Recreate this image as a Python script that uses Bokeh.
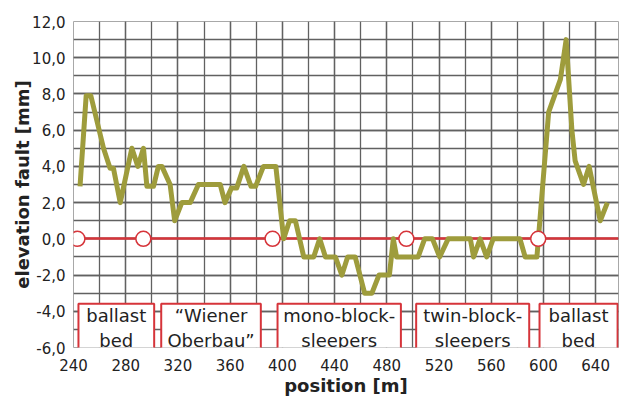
from bokeh.plotting import figure
from bokeh.models import FixedTicker, BoxAnnotation, Label, Range1d, ColumnDataSource
from bokeh.embed import file_html
from bokeh.resources import INLINE

# ---- data ----
position_m = [245, 249.7, 253.3, 263, 268, 270.6, 275.8, 284.7, 289.3, 293.6, 296.2, 301.3,
              305, 307.7, 314, 317.5, 323, 329.4, 335.7, 352.4, 356, 361, 365, 370.5, 376,
              379.5, 385.5, 395, 401, 405.5, 410, 416.4, 424, 428.6, 433, 440.6, 445.6, 450,
              455.8, 463, 468.6, 474, 482, 485, 487.5, 504, 509, 515, 520.5, 527, 544, 546.5,
              551.5, 556.5, 561.5, 582, 586, 595, 604, 613, 617.4, 621.8, 624.3, 630.7, 635,
              643.5, 649]
elevation_fault_mm = [2.9, 7.9, 7.9, 5, 3.9, 3.9, 2, 5, 4, 5, 2.9, 2.9,
                      4, 4, 3, 1, 2, 2, 3, 3, 2, 2.8, 2.8, 4, 2.9,
                      2.9, 4, 4, 0, 1, 1, -1, -1, 0, -1, -1, -2, -1,
                      -1, -3, -3, -2, -2, 0, -1, -1, 0, 0, -1, 0, 0, -1,
                      0, -1, 0, 0, -1, -1, 7, 8.8, 11, 6, 4.3, 3, 4,
                      1, 2]

boundary_positions_m = [243, 293.5, 392.5, 495, 596]
boundary_levels_mm = [0, 0, 0, 0, 0]
zero_level_mm = [0.0]

section_labels = ["ballast\nbed", "\u201cWiener\nOberbau\u201d", "mono-block-\nsleepers",
                  "twin-block-\nsleepers", "ballast\nbed"]
section_starts_m = [243.8, 307.2, 396.3, 502.5, 597.0]
section_ends_m = [301.8, 383.5, 490.8, 589.1, 656.8]

x_ticks = [240, 280, 320, 360, 400, 440, 480, 520, 560, 600, 640]
x_tick_labels = ["240", "280", "320", "360", "400", "440", "480", "520", "560", "600", "640"]
x_grid_ticks = [240, 260, 280, 300, 320, 340, 360, 380, 400, 420, 440, 460, 480, 500,
                520, 540, 560, 580, 600, 620, 640]
y_ticks = [-6, -4, -2, 0, 2, 4, 6, 8, 10, 12]
y_tick_labels = ["-6,0", "-4,0", "-2,0", "0,0", "2,0", "4,0", "6,0", "8,0", "10,0", "12,0"]
y_grid_ticks = [-6, -5, -4, -3, -2, -1, 0, 1, 2, 3, 4, 5, 6, 7, 8, 9, 10, 11, 12]

# ---- styles ----
FONT = "DejaVu Sans"
GREEN = "#9e9c3c"
RED = "#d6343a"
GRID = "#616161"
TXT = "#222222"

p = figure(width=620, height=400, output_backend="svg", toolbar_location=None, title=None,
           x_range=Range1d(240, 657.5), y_range=Range1d(-6, 12),
           min_border_left=73, min_border_right=2, min_border_top=21, min_border_bottom=53)
p.background_fill_color = "white"
p.border_fill_color = "white"
p.outline_line_color = "#a8a8a8"
p.outline_line_width = 1

p.xaxis.ticker = FixedTicker(ticks=x_ticks, minor_ticks=x_grid_ticks)
p.xaxis.major_label_overrides = {t: l for t, l in zip(x_ticks, x_tick_labels)}
p.yaxis.ticker = FixedTicker(ticks=y_ticks, minor_ticks=y_grid_ticks)
p.yaxis.major_label_overrides = {t: l for t, l in zip(y_ticks, y_tick_labels)}
for g in (p.xgrid, p.ygrid):
    g.grid_line_color = GRID
    g.grid_line_width = 1.3
    g.minor_grid_line_color = GRID
    g.minor_grid_line_width = 1.3

for ax in (p.xaxis, p.yaxis):
    ax.axis_line_color = None
    ax.major_tick_line_color = None
    ax.minor_tick_line_color = None
    ax.major_tick_out = 0
    ax.major_tick_in = 0
    ax.minor_tick_out = 0
    ax.minor_tick_in = 0
    ax.major_label_text_font = FONT
    ax.major_label_text_font_size = "15px"
    ax.major_label_text_color = TXT
    ax.axis_label_text_font = FONT
    ax.axis_label_text_font_size = "18px"
    ax.axis_label_text_font_style = "bold"
    ax.axis_label_text_color = TXT

p.xaxis.axis_label = "position [m]"
p.yaxis.axis_label = "elevation fault [mm]"
p.xaxis.major_label_standoff = 11
p.xaxis.axis_label_standoff = 1
p.yaxis.major_label_standoff = 8
p.yaxis.axis_label_standoff = -4

p.hspan(y=zero_level_mm, line_color=RED, line_width=2.5)
src = ColumnDataSource(dict(x=position_m, y=elevation_fault_mm))
p.line("x", "y", source=src, line_color=GREEN, line_width=5, line_join="round")
p.scatter(x=boundary_positions_m, y=boundary_levels_mm, size=15, marker="circle",
          fill_color="white", line_color=RED, line_width=1.5)

for lab, s, e in zip(section_labels, section_starts_m, section_ends_m):
    p.add_layout(BoxAnnotation(left=s, right=e, top=-3.58, bottom=-6.19,
                               fill_color="white", fill_alpha=1.0,
                               line_color=RED, line_width=2, line_alpha=1.0))
    p.add_layout(Label(x=(s + e) / 2, y=-4.92, text=lab, text_align="center",
                       text_baseline="middle", text_font=FONT, text_font_size="18px",
                       text_color=TXT, text_line_height=1.2))

open("out.html", "w").write(file_html(p, INLINE))
